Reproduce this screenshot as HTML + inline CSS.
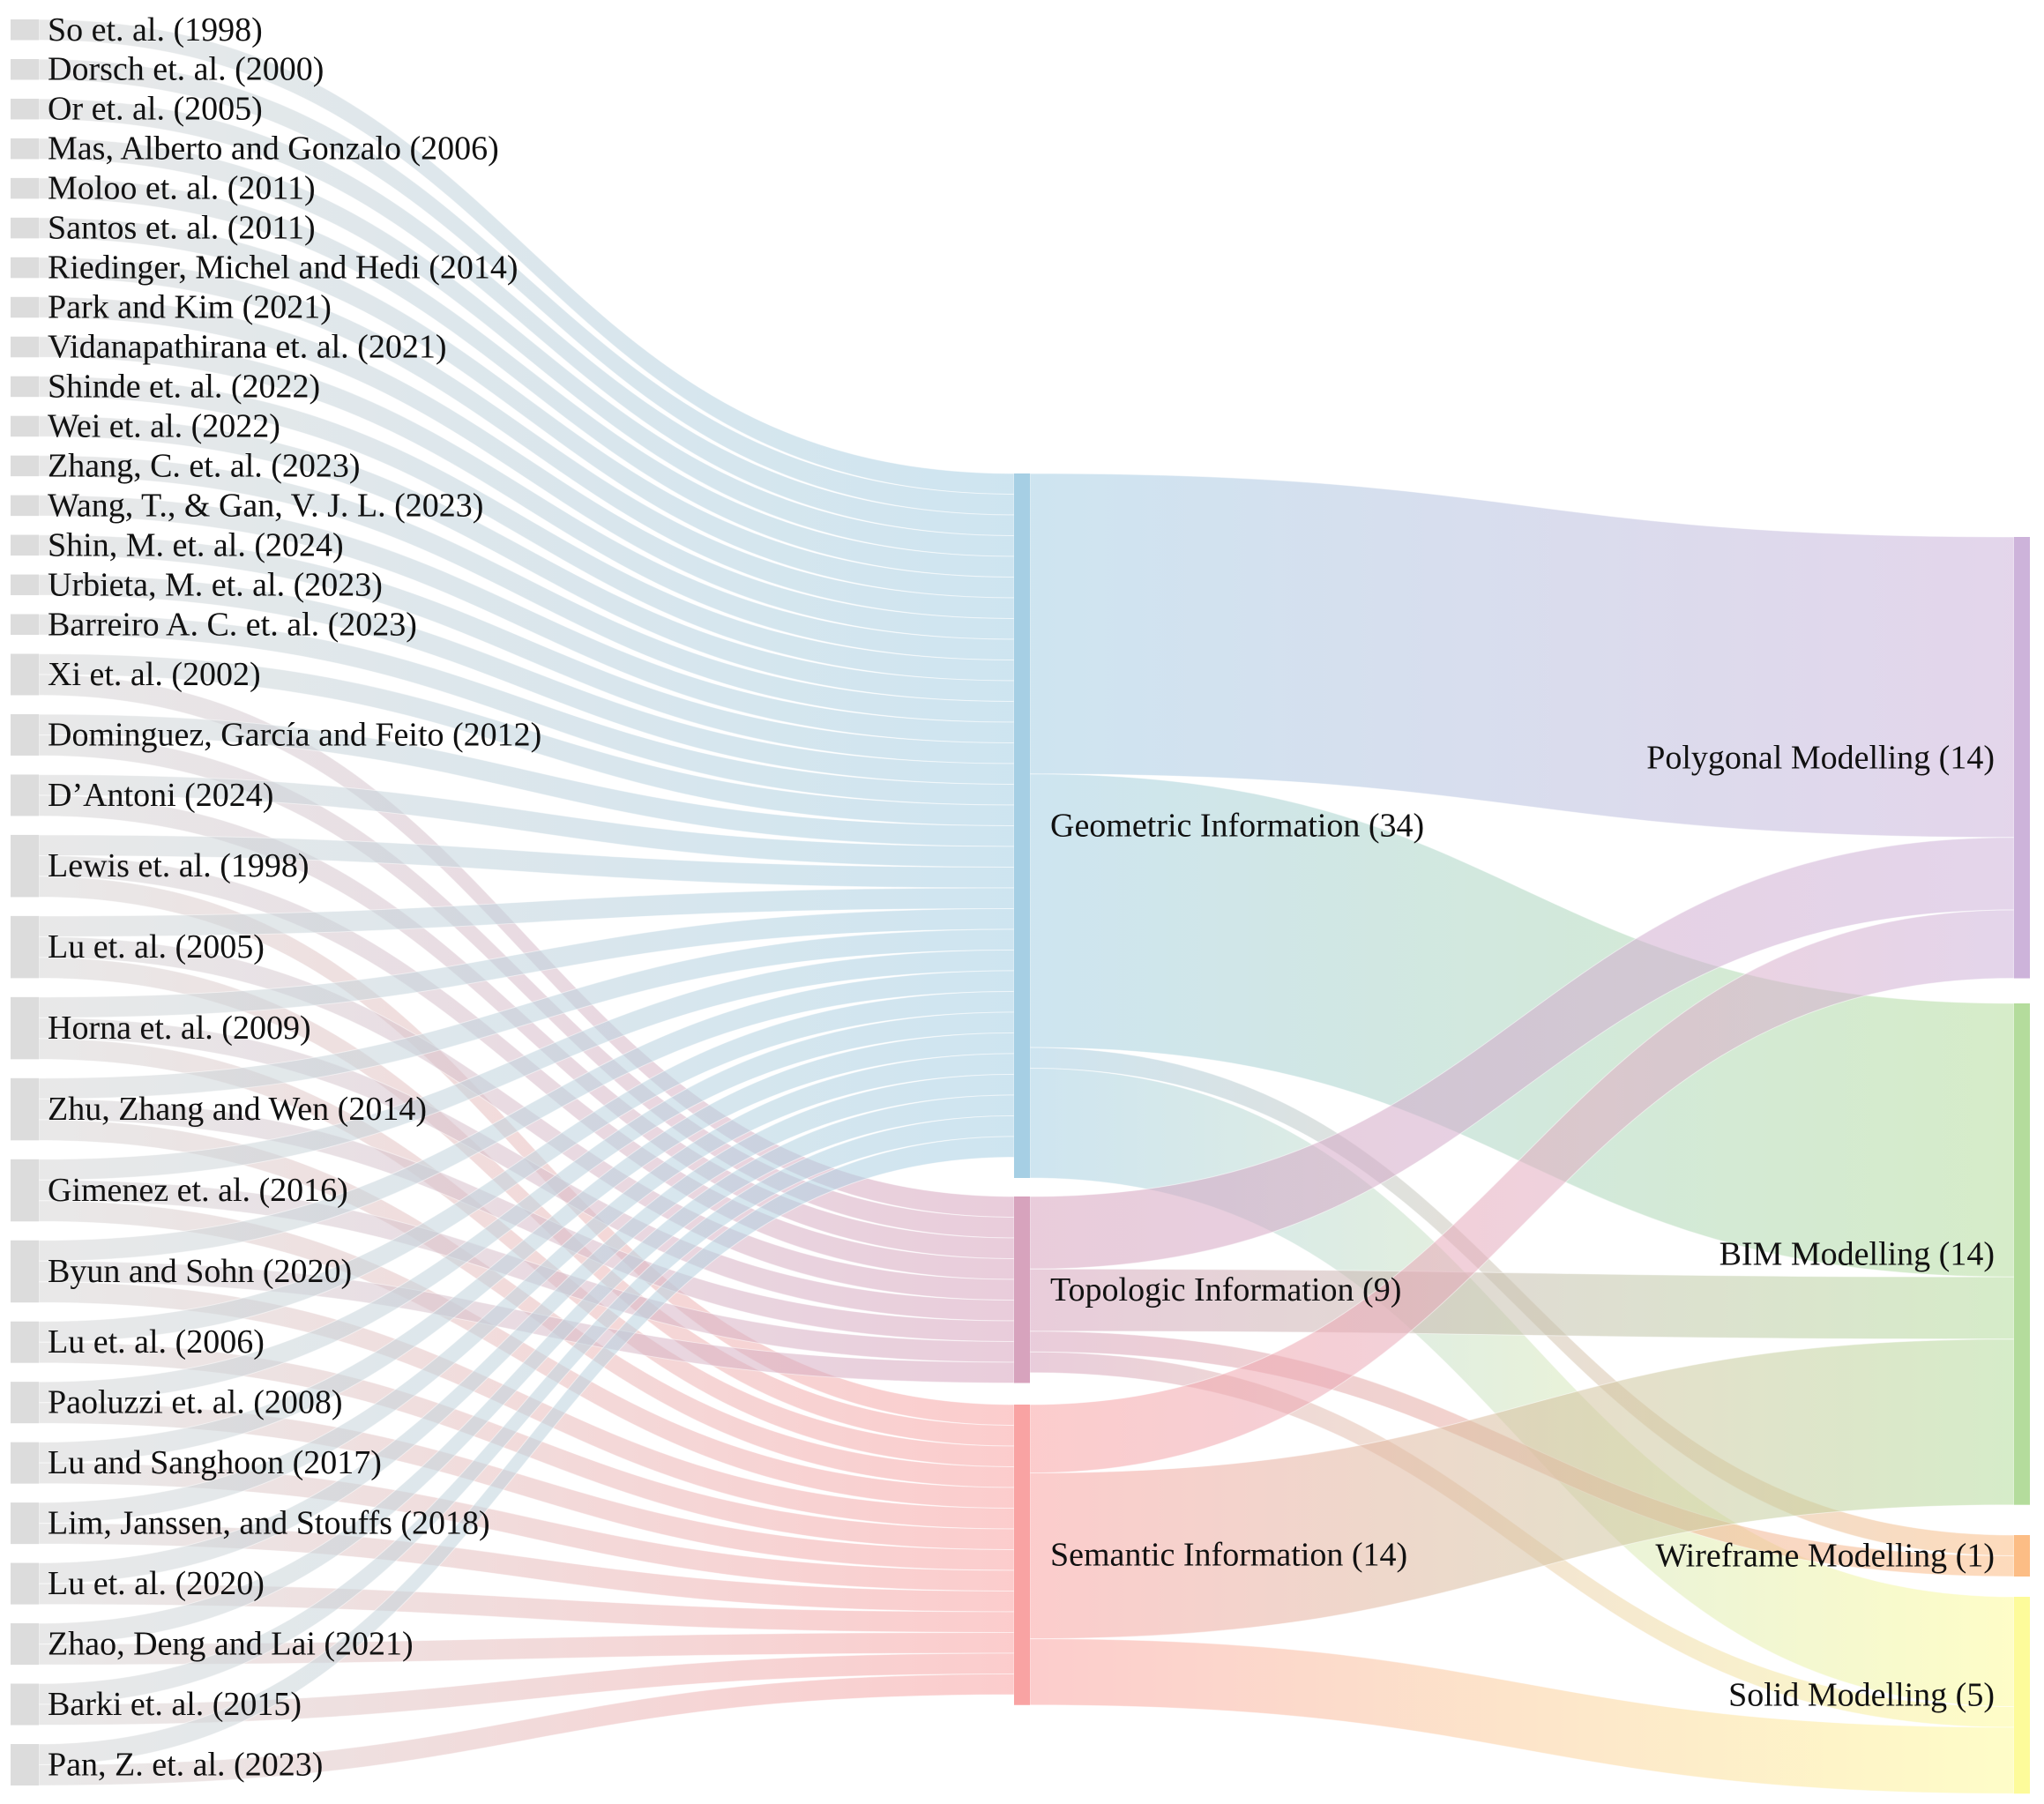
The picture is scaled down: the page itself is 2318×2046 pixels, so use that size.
<!DOCTYPE html>
<html><head><meta charset="utf-8">
<style>
html,body{margin:0;padding:0;background:#fff;}
svg{display:block;}
text{font-family:"Liberation Serif",serif;fill:#111;}
</style></head>
<body>
<svg id="chart" width="2318" height="2046" viewBox="0 0 2318 2046" xmlns="http://www.w3.org/2000/svg">
<defs id="defs"></defs>
<g id="links"></g>
<g id="nodes"></g>
<g id="labels"></g>
</svg>
<script>
// ---- data ----
const leftNames = ["So et. al. (1998)","Dorsch et. al. (2000)","Or et. al. (2005)","Mas, Alberto and Gonzalo (2006)","Moloo et. al. (2011)","Santos et. al. (2011)","Riedinger, Michel and Hedi (2014)","Park and Kim (2021)","Vidanapathirana et. al. (2021)","Shinde et. al. (2022)","Wei et. al. (2022)","Zhang, C. et. al. (2023)","Wang, T., & Gan, V. J. L. (2023)","Shin, M. et. al. (2024)","Urbieta, M. et. al. (2023)","Barreiro A. C. et. al. (2023)","Xi et. al. (2002)","Dominguez, García and Feito (2012)","D\u2019Antoni (2024)","Lewis et. al. (1998)","Lu et. al. (2005)","Horna et. al. (2009)","Zhu, Zhang and Wen (2014)","Gimenez et. al. (2016)","Byun and Sohn (2020)","Lu et. al. (2006)","Paoluzzi et. al. (2008)","Lu and Sanghoon (2017)","Lim, Janssen, and Stouffs (2018)","Lu et. al. (2020)","Zhao, Deng and Lai (2021)","Barki et. al. (2015)","Pan, Z. et. al. (2023)"];
const midNames = ["Geometric Information (34)","Topologic Information (9)","Semantic Information (14)"];
const rightNames = ["Polygonal Modelling (14)","BIM Modelling (14)","Wireframe Modelling (1)","Solid Modelling (5)"];
// links from each left paper: geometric, topologic, semantic units
const paperToGeo  = [1,1,1,1,1,1,1,1,1,1,1,1,1,1,1,1, 1,1,1, 1,1,1,1,1,1, 1,1,1,1,1,1,1,1];
const paperToTopo = [0,0,0,0,0,0,0,0,0,0,0,0,0,0,0,0, 1,1,1, 1,1,1,1,1,1, 0,0,0,0,0,0,0,0];
const paperToSem  = [0,0,0,0,0,0,0,0,0,0,0,0,0,0,0,0, 0,0,0, 1,1,1,1,1,1, 1,1,1,1,1,1,1,1];
// middle -> right values: cols = polygonal, BIM, wireframe, solid
const geoOut  = [14.5, 13.2, 1, 5.3];
const topoOut = [3.5, 3, 1, 1];
const semOut  = [3.3, 8, 0, 3.2];

// ---- layout ----
const U = 23.5, LX0 = 12, LX1 = 44, MX0 = 1150, MX1 = 1168, RX0 = 2284, RX1 = 2302;
const midTop = [537, 1357, 1593];
const rightTop = [609, 1138, 1741, 1811];
const midColor = ["#a6cfe4","#d7a3bd","#f9a3a3"];
const rightColor = ["#cdb3da","#b4dc9c","#fcbd85","#fdfb9a"];
const grey = "#d6d6d6";
const svgNS = "http://www.w3.org/2000/svg";
const defs = document.getElementById('defs'), gL = document.getElementById('links'), gN = document.getElementById('nodes'), gT = document.getElementById('labels');

const midIn = [paperToGeo,paperToTopo,paperToSem];
const midOutArr = [geoOut,topoOut,semOut];
const leftVal = leftNames.map((_, i) => paperToGeo[i] + paperToTopo[i] + paperToSem[i]);
const totalLeft = leftVal.reduce((a, b) => a + b, 0);
const pad = (2025 - 22 - totalLeft * U) / (leftNames.length - 1);
const leftTop = []; let y = 22;
leftVal.forEach(v => { leftTop.push(y); y += v * U + pad; });
const midVal = [0,1,2].map(m => Math.max(midIn[m].reduce((a,b)=>a+b,0), midOutArr[m].reduce((a,b)=>a+b,0)));
const rightVal = [0,1,2,3].map(r => midOutArr[0][r] + midOutArr[1][r] + midOutArr[2][r]);

let gid = 0;
function link(x0, y0a, x1, y1a, w, c0, c1, name) {
  const id = 'g' + (gid++);
  const lg = document.createElementNS(svgNS, 'linearGradient');
  lg.setAttribute('id', id); lg.setAttribute('gradientUnits', 'userSpaceOnUse');
  lg.setAttribute('x1', x0); lg.setAttribute('x2', x1); lg.setAttribute('y1', 0); lg.setAttribute('y2', 0);
  lg.innerHTML = `<stop offset="0" stop-color="${c0}"/><stop offset="1" stop-color="${c1}"/>`;
  defs.appendChild(lg);
  const xm = (x0 + x1) / 2;
  const d = `M${x0},${y0a} C${xm},${y0a} ${xm},${y1a} ${x1},${y1a} L${x1},${y1a + w} C${xm},${y1a + w} ${xm},${y0a + w} ${x0},${y0a + w} Z`;
  const p = document.createElementNS(svgNS, 'path');
  p.setAttribute('d', d); p.setAttribute('fill', `url(#${id})`); p.setAttribute('fill-opacity', '0.55');
  p.setAttribute('stroke', '#fff'); p.setAttribute('stroke-opacity', '0.5'); p.setAttribute('stroke-width', '1');
  
  
  gL.appendChild(p);
}
const leftCursor = leftTop.slice();
const midInCursor = midTop.slice();
for (let i = 0; i < leftNames.length; i++) {
  for (let m = 0; m < 3; m++) {
    const v = midIn[m][i]; if (!v) continue;
    const w = v * U;
    link(LX1, leftCursor[i], MX0, midInCursor[m], w, grey, midColor[m], 'link-paper-' + i + '-to-' + ['geometric','topologic','semantic'][m]);
    leftCursor[i] += w; midInCursor[m] += w;
  }
}
const midOutCursor = midTop.slice();
const rightCursor = rightTop.slice();
for (let m = 0; m < 3; m++) {
  for (let r = 0; r < 4; r++) {
    const v = midOutArr[m][r]; if (!v) continue;
    const w = v * U;
    link(MX1, midOutCursor[m], RX0, rightCursor[r], w, midColor[m], rightColor[r], 'link-' + ['geometric','topologic','semantic'][m] + '-to-' + ['polygonal','bim','wireframe','solid'][r]);
    midOutCursor[m] += w;
    rightCursor[r] += w;
  }
}
function rect(x, y, w, h, fill, name) {
  const e = document.createElementNS(svgNS, 'rect');
  e.setAttribute('x', x); e.setAttribute('y', y); e.setAttribute('width', w); e.setAttribute('height', h);
  e.setAttribute('fill', fill);
  
  
  gN.appendChild(e);
}
function label(x, y, s, anchor, name) {
  const t = document.createElementNS(svgNS, 'text');
  t.setAttribute('x', x); t.setAttribute('y', y); t.setAttribute('text-anchor', anchor);
  t.setAttribute('dominant-baseline', 'central'); t.setAttribute('font-size', '38');
  t.textContent = s;
  
  
  gT.appendChild(t);
}
leftNames.forEach((n, i) => {
  const h = leftVal[i] * U;
  rect(LX0, leftTop[i], LX1 - LX0, h, '#dcdcdc', 'paper-node-' + i);
  label(54, leftTop[i] + h / 2, n, 'start', 'paper-label-' + i);
});
midNames.forEach((n, m) => {
  const h = midVal[m] * U;
  rect(MX0, midTop[m], MX1 - MX0, h, midColor[m], 'category-node-' + m);
  label(1191, midTop[m] + h / 2, n, 'start', 'category-label-' + m);
});
rightNames.forEach((n, r) => {
  const h = rightVal[r] * U;
  rect(RX0, rightTop[r], RX1 - RX0, h, rightColor[r], 'modelling-node-' + r);
  label(2262, rightTop[r] + h / 2, n, 'end', 'modelling-label-' + r);
});
</script>
</body></html>
